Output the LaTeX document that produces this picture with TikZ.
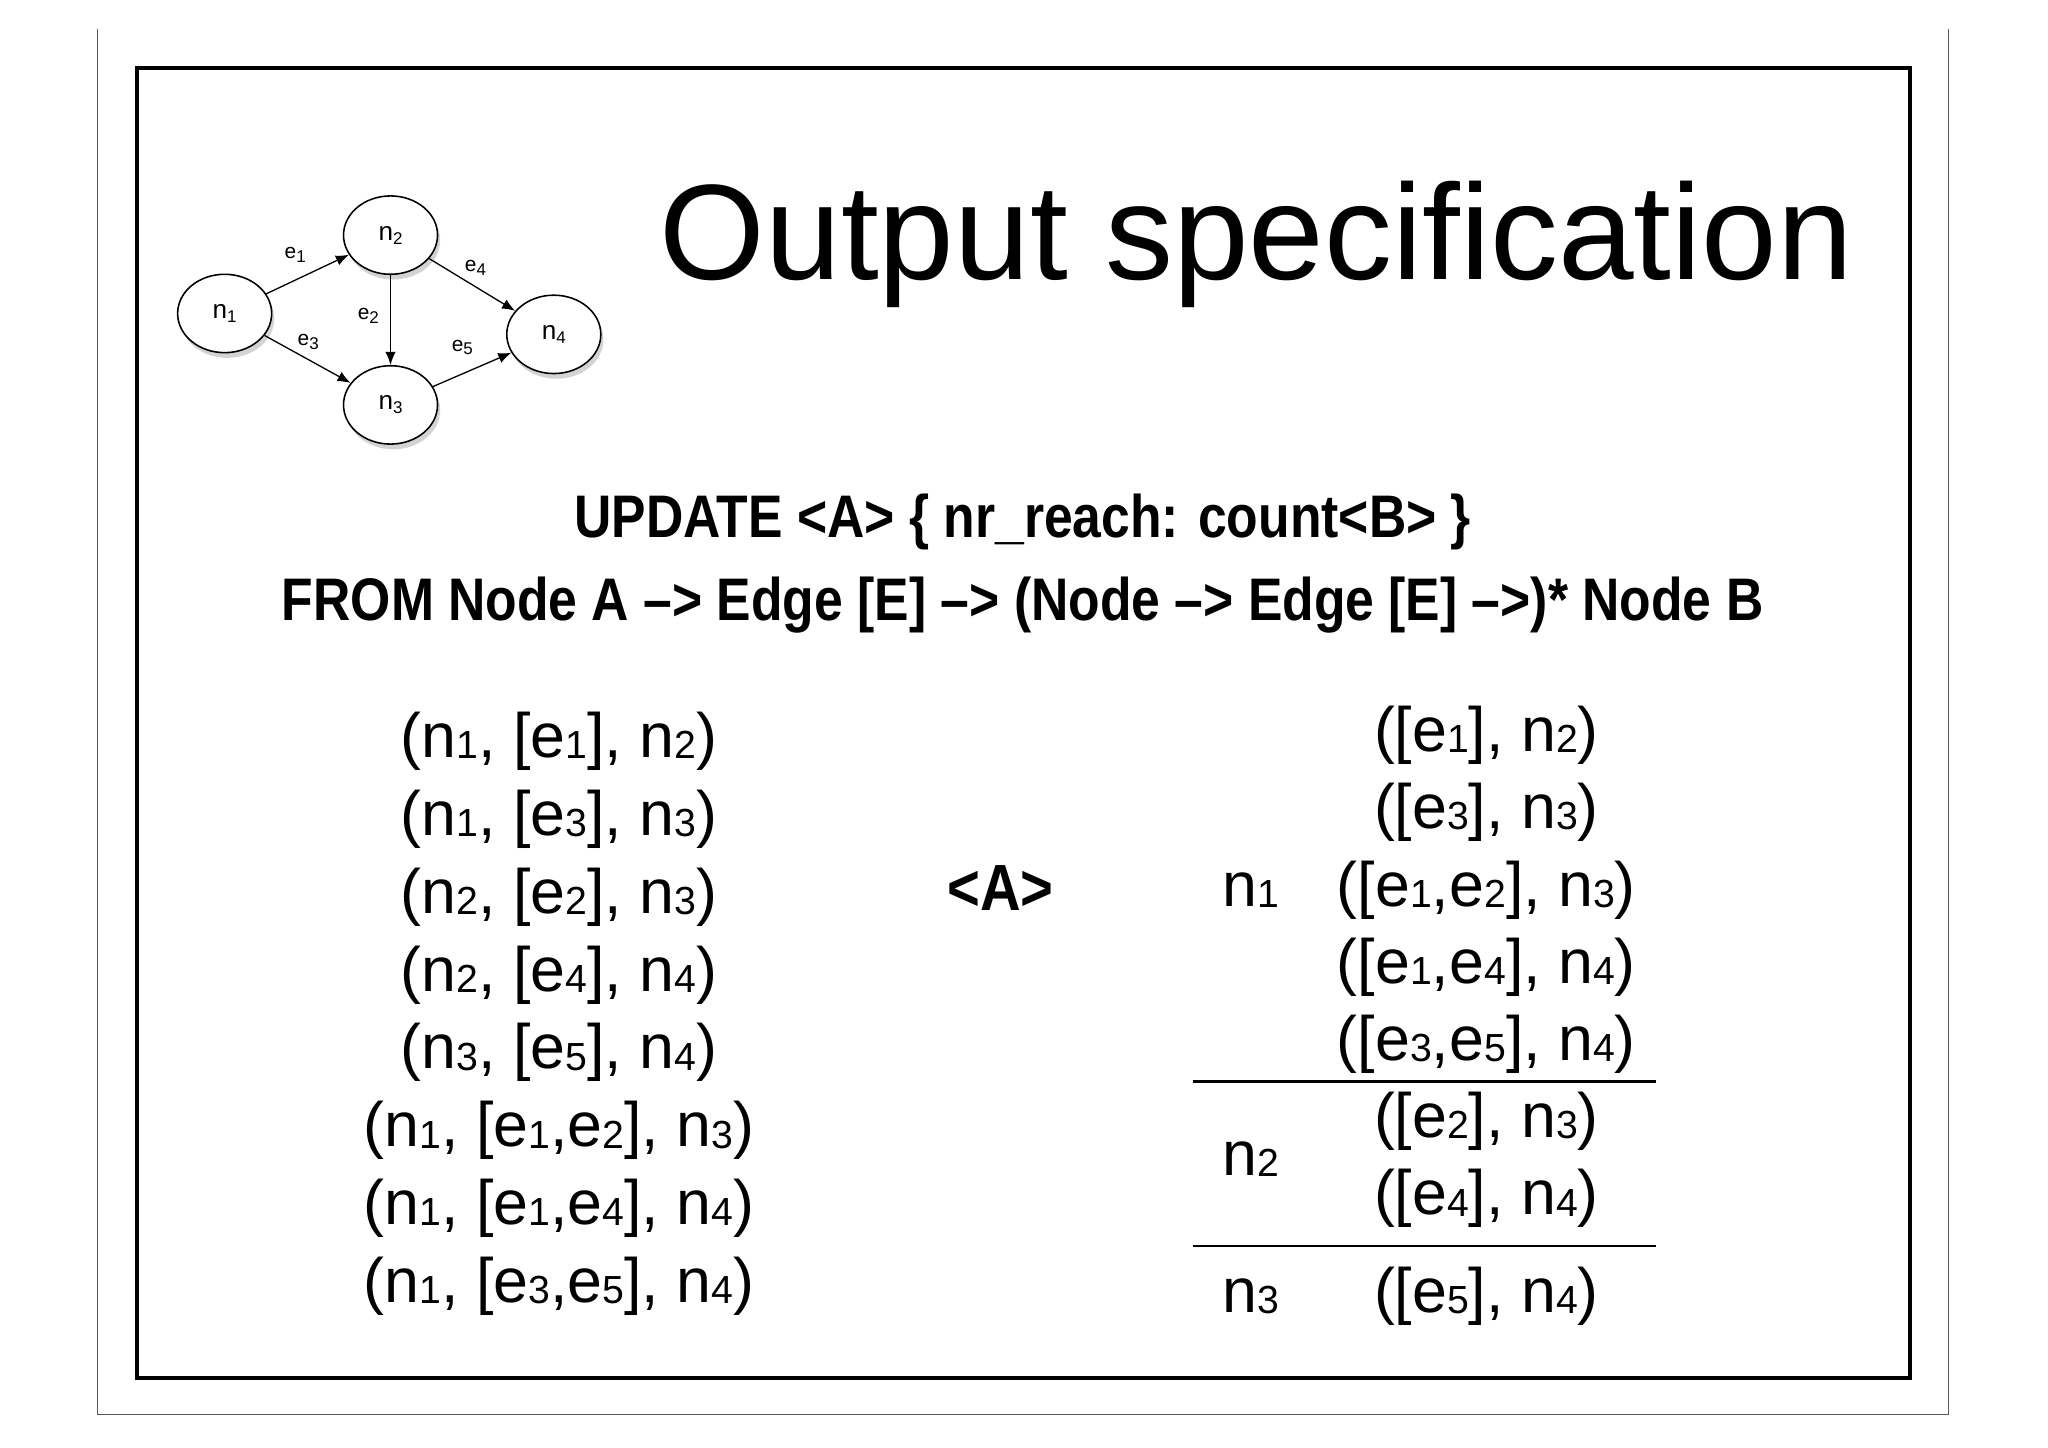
\documentclass[tikz,border=0pt]{standalone}
\usepackage{fontspec}
\setmainfont{Liberation Sans}
\newfontfamily\condfam[FakeStretch=0.86]{Liberation Sans}
\newcommand{\condbold}{\condfam\bfseries}
\usetikzlibrary{shadows,arrows.meta,shapes.geometric}
\newcommand{\sbx}[1]{\raisebox{-0.5pt}{\fontsize{15}{15}\selectfont #1}}
\newcommand{\gsb}[1]{\raisebox{-1.5pt}{\fontsize{6.5}{6.5}\selectfont #1}}
\begin{document}
\begin{tikzpicture}[x=0.5pt,y=-0.5pt,
  gnode/.style={draw,line width=0.6pt,ellipse,minimum width=36pt,minimum height=30pt,inner sep=0pt,fill=white,drop shadow={shadow xshift=1pt,shadow yshift=-2pt,opacity=0.35}},
  garr/.style={-{Latex[length=5pt,width=4pt]},line width=0.5pt},
  glab/.style={font=\fontsize{8}{8}\selectfont,inner sep=0pt},
  row/.style={font=\fontsize{24}{24}\selectfont,inner sep=0pt,anchor=base},
  cq/.style={font=\fontsize{23}{23}\condbold,inner sep=0pt}]
\useasboundingbox (0,0) rectangle (1568,1108);
\draw[line width=0.4pt,gray!70!black] (75,22) -- (75,1083) -- (1492,1083) -- (1492,22);
\draw[line width=1.5pt] (105,52) rectangle (1462,1055);
% graph
\node[gnode] (n1) at (172,240) {n\gsb{1}};
\node[gnode] (n2) at (299,180) {n\gsb{2}};
\node[gnode] (n3) at (299,310) {n\gsb{3}};
\node[gnode] (n4) at (424,256) {n\gsb{4}};
\draw[garr] (n1) -- (n2);
\draw[garr] (n2) -- (n3);
\draw[garr] (n1) -- (n3);
\draw[garr] (n2) -- (n4);
\draw[garr] (n3) -- (n4);
\node[glab] (le1) at (226,195) {e\gsb{1}};
\node[glab] (le2) at (282,242) {e\gsb{2}};
\node[glab] (le3) at (236,262) {e\gsb{3}};
\node[glab] (le4) at (364,205) {e\gsb{4}};
\node[glab] (le5) at (354,266) {e\gsb{5}};
% title
\node[font=\fontsize{52}{52}\selectfont,inner sep=0pt] (title) at (962,187) {Output specification};
\node[cq] (q1) at (783,400) {UPDATE <A> \{ nr\_reach: count<B> \}};
\node[cq] (q2) at (783,463) {FROM Node A –> Edge [E] –> (Node –> Edge [E] –>)* Node B};
% left list
\foreach \t [count=\i] in {
 {(n\sbx{1}, [e\sbx{1}], n\sbx{2})},
 {(n\sbx{1}, [e\sbx{3}], n\sbx{3})},
 {(n\sbx{2}, [e\sbx{2}], n\sbx{3})},
 {(n\sbx{2}, [e\sbx{4}], n\sbx{4})},
 {(n\sbx{3}, [e\sbx{5}], n\sbx{4})},
 {(n\sbx{1}, [e\sbx{1},e\sbx{2}], n\sbx{3})},
 {(n\sbx{1}, [e\sbx{1},e\sbx{4}], n\sbx{4})},
 {(n\sbx{1}, [e\sbx{3},e\sbx{5}], n\sbx{4})}}
 \node[row] (l\i) at (428,{568+12+(\i-1)*59.6}) {\t};
\node[cq,font=\fontsize{25}{25}\condbold] (A) at (766,680) {<A>};
% right list
\foreach \t/\y [count=\i] in {
 {([e\sbx{1}], n\sbx{2})}/563,
 {([e\sbx{3}], n\sbx{3})}/622,
 {([e\sbx{1},e\sbx{2}], n\sbx{3})}/682,
 {([e\sbx{1},e\sbx{4}], n\sbx{4})}/741,
 {([e\sbx{3},e\sbx{5}], n\sbx{4})}/800,
 {([e\sbx{2}], n\sbx{3})}/859,
 {([e\sbx{4}], n\sbx{4})}/918,
 {([e\sbx{5}], n\sbx{4})}/993}
 \node[row] (r\i) at (1138,{\y+12}) {\t};
\node[row] (k1) at (958,{682+12}) {n\sbx{1}};
\node[row] (k2) at (958,{888+12}) {n\sbx{2}};
\node[row] (k3) at (958,{993+12}) {n\sbx{3}};
\coordinate (a1) at (913,828); \coordinate (b1) at (1268,828);
\coordinate (a2) at (913,954); \coordinate (b2) at (1268,954);
\draw[line width=1pt] (a1) -- (b1);
\draw[line width=1pt] (a2) -- (b2);
\end{tikzpicture}
\end{document}
